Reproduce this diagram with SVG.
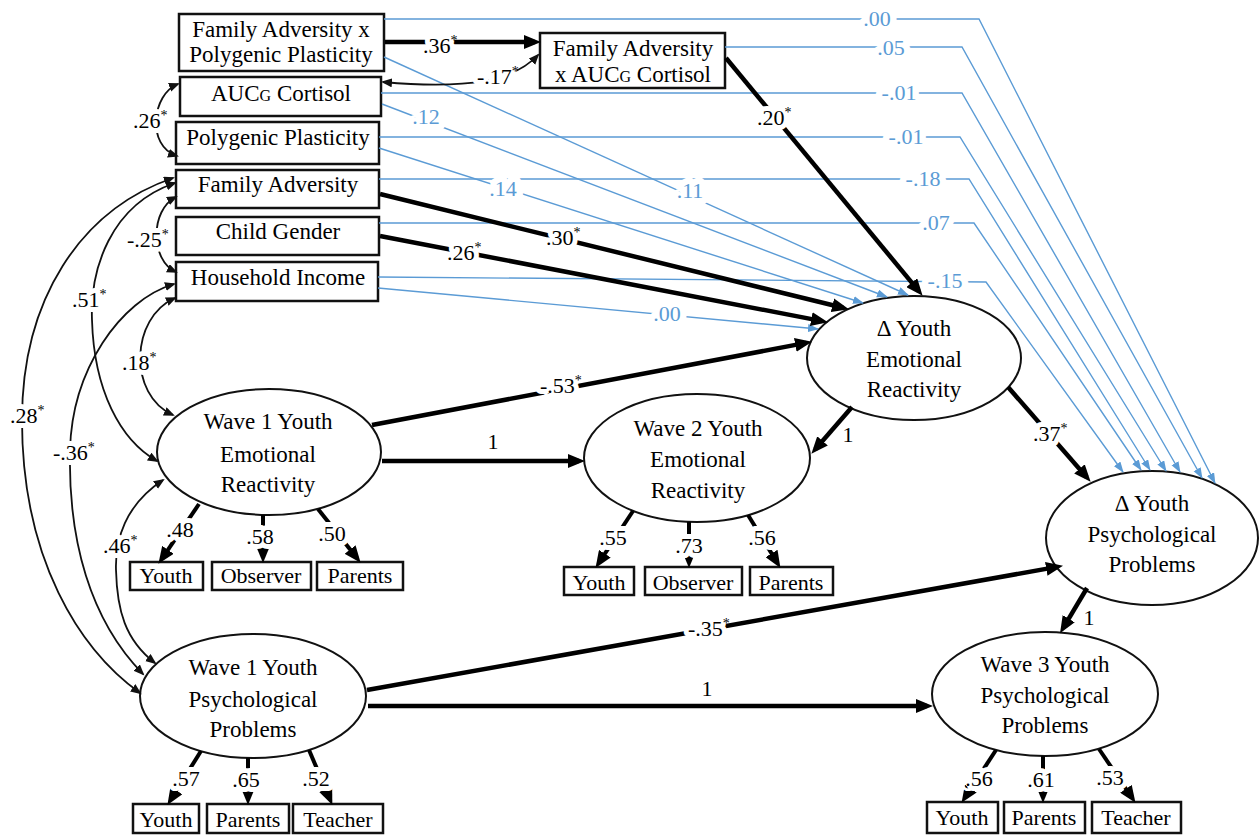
<svg xmlns="http://www.w3.org/2000/svg" width="1259" height="835" viewBox="0 0 1259 835" font-family="'Liberation Serif', 'DejaVu Serif', serif">
<defs>
<style>
text{font-family:'Liberation Serif','DejaVu Serif',serif;fill:#000}
.n{font-size:23px;text-anchor:middle}
.i{font-size:22px;text-anchor:middle}
.box{fill:#fff;stroke:#111;stroke-width:2.5}
.ell{fill:#fff;stroke:#111;stroke-width:2}
.thick{fill:none;stroke:#000;stroke-width:4.5;marker-end:url(#ab)}
.load{fill:none;stroke:#000;stroke-width:4;marker-end:url(#ab)}
.cov{fill:none;stroke:#111;stroke-width:1.8;marker-start:url(#ac);marker-end:url(#ac)}
.blue{fill:none;stroke:#5b9bd5;stroke-width:1.4;marker-end:url(#abl)}
.l{font-size:22px;paint-order:stroke;stroke:#fff;stroke-width:10px;stroke-linejoin:round}
.c{text-anchor:middle}
.lb{font-size:22px;fill:#5b9bd5;paint-order:stroke;stroke:#fff;stroke-width:13px;stroke-linejoin:round;text-anchor:middle}
.s{font-size:14px;stroke:none}
</style>
<marker id="ab" markerUnits="userSpaceOnUse" markerWidth="17" markerHeight="14" refX="11" refY="7" orient="auto"><path d="M0,0 L17,7 L0,14 z" fill="#000"/></marker>
<marker id="ac" markerUnits="userSpaceOnUse" markerWidth="12" markerHeight="10" refX="9" refY="4.5" orient="auto-start-reverse"><path d="M0,0 L11,4.5 L0,9 z" fill="#111"/></marker>
<marker id="abl" markerUnits="userSpaceOnUse" markerWidth="12" markerHeight="9" refX="10" refY="4" orient="auto"><path d="M0,0 L11,4 L0,8 z" fill="#5b9bd5"/></marker>
</defs>
<rect width="1259" height="835" fill="#fff"/>

<g id="nodes">
<g id="fa-x-pp"><rect class="box" x="179" y="14" width="205" height="57"/><text class="n" x="281" y="37">Family Adversity x</text><text class="n" x="281" y="62">Polygenic Plasticity</text></g>
<g id="auc"><rect class="box" x="180" y="77" width="201" height="39"/><text class="n" x="281" y="101">AUC<tspan font-size="16">G</tspan> Cortisol</text></g>
<g id="pp"><rect class="box" x="176" y="122" width="203" height="42"/><text class="n" x="278" y="145">Polygenic Plasticity</text></g>
<g id="fa"><rect class="box" x="176" y="170" width="203" height="38"/><text class="n" x="278" y="192">Family Adversity</text></g>
<g id="cg"><rect class="box" x="176" y="217" width="203" height="38"/><text class="n" x="278" y="239">Child Gender</text></g>
<g id="hi"><rect class="box" x="176" y="262" width="202" height="39"/><text class="n" x="278" y="285">Household Income</text></g>
<g id="fa-x-auc"><rect class="box" x="540" y="33" width="185" height="55"/><text class="n" x="633" y="56">Family Adversity</text><text class="n" x="633" y="82">x AUC<tspan font-size="16">G</tspan> Cortisol</text></g>

<g id="d-er"><ellipse class="ell" cx="914" cy="358" rx="107" ry="62"/><text class="n" x="914" y="336">Δ Youth</text><text class="n" x="914" y="367">Emotional</text><text class="n" x="914" y="397">Reactivity</text></g>
<g id="w2-er"><ellipse class="ell" cx="697" cy="458" rx="113" ry="64"/><text class="n" x="698" y="436">Wave 2 Youth</text><text class="n" x="698" y="467">Emotional</text><text class="n" x="698" y="498">Reactivity</text></g>
<g id="d-pp"><ellipse class="ell" cx="1152" cy="538" rx="106" ry="67"/><text class="n" x="1152" y="511">Δ Youth</text><text class="n" x="1152" y="542">Psychological</text><text class="n" x="1152" y="572">Problems</text></g>
<g id="w1-er"><ellipse class="ell" cx="269" cy="452" rx="112" ry="63"/><text class="n" x="268" y="429">Wave 1 Youth</text><text class="n" x="268" y="462">Emotional</text><text class="n" x="268" y="492">Reactivity</text></g>
<g id="w1-pp"><ellipse class="ell" cx="253" cy="696" rx="113" ry="62"/><text class="n" x="253" y="675">Wave 1 Youth</text><text class="n" x="253" y="707">Psychological</text><text class="n" x="253" y="737">Problems</text></g>
<g id="w3-pp"><ellipse class="ell" cx="1045" cy="694" rx="113" ry="62"/><text class="n" x="1045" y="672">Wave 3 Youth</text><text class="n" x="1045" y="703">Psychological</text><text class="n" x="1045" y="733">Problems</text></g>

<g id="w1er-youth"><rect class="box" x="130" y="562" width="73" height="28"/><text class="i" x="166" y="583">Youth</text></g>
<g id="w1er-observer"><rect class="box" x="212" y="562" width="99" height="28"/><text class="i" x="261" y="583">Observer</text></g>
<g id="w1er-parents"><rect class="box" x="317" y="562" width="86" height="28"/><text class="i" x="360" y="583">Parents</text></g>
<g id="w2er-youth"><rect class="box" x="564" y="567" width="70" height="28"/><text class="i" x="599" y="590">Youth</text></g>
<g id="w2er-observer"><rect class="box" x="645" y="567" width="97" height="28"/><text class="i" x="693" y="590">Observer</text></g>
<g id="w2er-parents"><rect class="box" x="750" y="567" width="83" height="28"/><text class="i" x="791" y="590">Parents</text></g>
<g id="w1pp-youth"><rect class="box" x="133" y="804" width="66" height="29"/><text class="i" x="166" y="827">Youth</text></g>
<g id="w1pp-parents"><rect class="box" x="207" y="804" width="82" height="29"/><text class="i" x="248" y="827">Parents</text></g>
<g id="w1pp-teacher"><rect class="box" x="293" y="804" width="90" height="29"/><text class="i" x="338" y="827">Teacher</text></g>
<g id="w3pp-youth"><rect class="box" x="927" y="802" width="71" height="31"/><text class="i" x="962" y="825">Youth</text></g>
<g id="w3pp-parents"><rect class="box" x="1004" y="802" width="81" height="31"/><text class="i" x="1044" y="825">Parents</text></g>
<g id="w3pp-teacher"><rect class="box" x="1092" y="802" width="89" height="31"/><text class="i" x="1136" y="825">Teacher</text></g>
</g>

<g id="connectors">
<path class="blue" d="M384,19 H979 L1215,483"/>
<path class="blue" d="M725,47 H962 L1202,478"/>
<path class="blue" d="M381,93 H962 L1180,472"/>
<path class="blue" d="M379,137 H960 L1166,471"/>
<path class="blue" d="M379,179 H969 L1150,470"/>
<path class="blue" d="M379,223 H974 L1141,470"/>
<path class="blue" d="M378,277 L986,282 L1123,472"/>
<path class="blue" d="M384,57 L908,295"/>
<path class="blue" d="M382,104 L887,297"/>
<path class="blue" d="M379,148 L863,303"/>
<path class="blue" d="M378,288 L818,329"/>
<path class="thick" d="M385,42 L535,42"/>
<path class="thick" d="M726,58 L918.8,291.1"/>
<path class="thick" d="M380,194 L843.1,307.8"/>
<path class="thick" d="M380,236 L822.1,321.1"/>
<path class="thick" d="M372,425 L806.1,342.9"/>
<path class="thick" d="M382,461 L579,461"/>
<path class="thick" d="M852,407 L815.3,449.2"/>
<path class="thick" d="M1008,387 L1086.7,477.2"/>
<path class="thick" d="M367,690 L1057.1,566.9"/>
<path class="thick" d="M368,706 L927,706"/>
<path class="thick" d="M1087,588 L1063.1,628.1"/>
<path class="load" d="M199,504 L161.8,558.9"/>
<path class="load" d="M263,515 L263,557"/>
<path class="load" d="M318,509 L356.9,558.1"/>
<path class="load" d="M633,511 L598.8,562.9"/>
<path class="load" d="M689,522 L689,562"/>
<path class="load" d="M748,515 L777.3,562.8"/>
<path class="load" d="M201,751 L170.6,799.8"/>
<path class="load" d="M248,758 L248,799"/>
<path class="load" d="M309,750 L330,799.4"/>
<path class="load" d="M996,750 L964.8,797.8"/>
<path class="load" d="M1043,756 L1043,797"/>
<path class="load" d="M1099,749 L1132.1,797.9"/>
<path class="cov" d="M538,55 C515,80 470,90 383,82"/>
<path class="cov" d="M178,84 C152,94 146,146 177,156"/>
<path class="cov" d="M176,197 C150,210 150,260 176,272"/>
<path class="cov" d="M175,183 C110,205 90,270 92,320 C94,390 120,440 157,461"/>
<path class="cov" d="M173,178 C80,210 22,300 22,420 C22,560 80,650 140,693"/>
<path class="cov" d="M174,284 C120,300 72,370 70,450 C68,540 90,620 143,674"/>
<path class="cov" d="M175,298 C130,318 128,395 173,415"/>
<path class="cov" d="M163,480 C125,505 115,540 116,570 C117,610 125,640 155,663"/>
</g>

<g id="labels">
<text class="l" x="423" y="53">.36<tspan class="s" dy="-8">*</tspan></text>
<text class="l" x="477" y="84">-.17<tspan class="s" dy="-8">*</tspan></text>
<text class="l" x="757" y="125">.20<tspan class="s" dy="-8">*</tspan></text>
<text class="l" x="546" y="245">.30<tspan class="s" dy="-8">*</tspan></text>
<text class="l" x="447" y="260">.26<tspan class="s" dy="-8">*</tspan></text>
<text class="l" x="133" y="128">.26<tspan class="s" dy="-8">*</tspan></text>
<text class="l" x="127" y="247">-.25<tspan class="s" dy="-8">*</tspan></text>
<text class="l" x="72" y="307">.51<tspan class="s" dy="-8">*</tspan></text>
<text class="l" x="122" y="370">.18<tspan class="s" dy="-8">*</tspan></text>
<text class="l" x="10" y="423">.28<tspan class="s" dy="-8">*</tspan></text>
<text class="l" x="53" y="460">-.36<tspan class="s" dy="-8">*</tspan></text>
<text class="l" x="103" y="553">.46<tspan class="s" dy="-8">*</tspan></text>
<text class="l" x="540" y="393">-.53<tspan class="s" dy="-8">*</tspan></text>
<text class="l" x="1033" y="441">.37<tspan class="s" dy="-8">*</tspan></text>
<text class="l" x="688" y="636">-.35<tspan class="s" dy="-8">*</tspan></text>
<text class="l c" x="493" y="449">1</text>
<text class="l c" x="848" y="442">1</text>
<text class="l c" x="707" y="696">1</text>
<text class="l c" x="1089" y="625">1</text>
<text class="l c" x="180" y="537">.48</text>
<text class="l c" x="260" y="544">.58</text>
<text class="l c" x="332" y="541">.50</text>
<text class="l c" x="613" y="545">.55</text>
<text class="l c" x="689" y="553">.73</text>
<text class="l c" x="762" y="545">.56</text>
<text class="l c" x="186" y="786">.57</text>
<text class="l c" x="246" y="787">.65</text>
<text class="l c" x="316" y="786">.52</text>
<text class="l c" x="979" y="786">.56</text>
<text class="l c" x="1041" y="787">.61</text>
<text class="l c" x="1110" y="785">.53</text>
<text class="lb" x="877" y="26">.00</text>
<text class="lb" x="891" y="55">.05</text>
<text class="lb" x="899" y="100">-.01</text>
<text class="lb" x="906" y="144">-.01</text>
<text class="lb" x="923" y="186">-.18</text>
<text class="lb" x="936" y="230">.07</text>
<text class="lb" x="945" y="288">-.15</text>
<text class="lb" x="426" y="124">.12</text>
<text class="lb" x="503" y="196">.14</text>
<text class="lb" x="690" y="198">.11</text>
<text class="lb" x="667" y="321">.00</text>
</g>
</svg>
